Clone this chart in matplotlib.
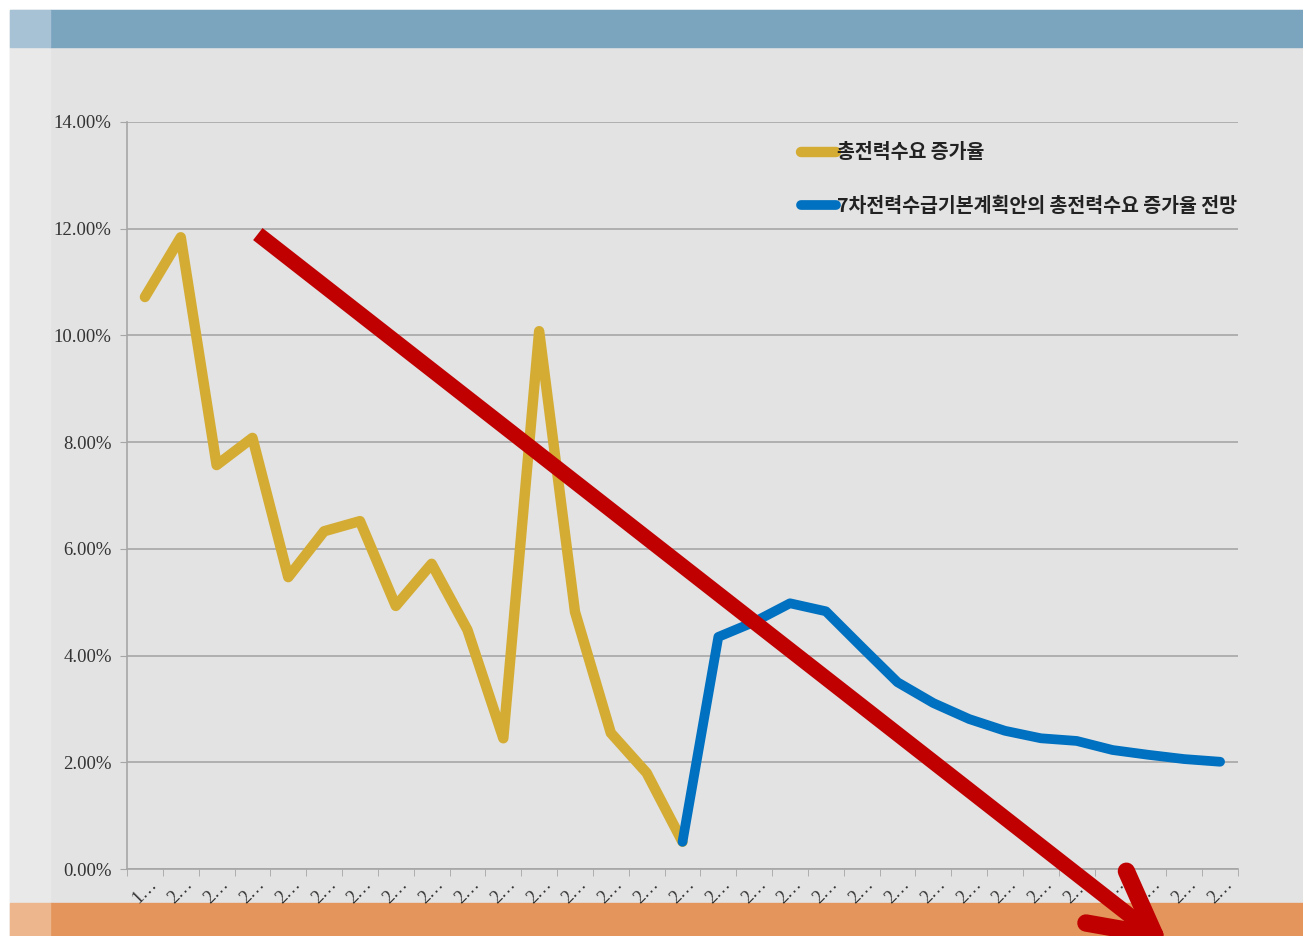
import numpy as np
import matplotlib.pyplot as plt
from matplotlib.lines import Line2D
from matplotlib.patches import Rectangle

plt.rcParams['font.family'] = ['Liberation Serif', 'DejaVu Serif']

# 데이터
years = ['1…'] + ['2…'] * 30
total_growth = [10.72, 11.84, 7.57, 8.08, 5.47, 6.33, 6.52, 4.93, 5.72, 4.48,
                2.45, 10.08, 4.82, 2.55, 1.80, 0.51]
plan_growth = [0.51, 4.35, 4.63, 4.98, 4.83, 4.16, 3.50, 3.11, 2.81, 2.59,
               2.45, 2.40, 2.23, 2.14, 2.06, 2.01]
plan_start = 15
yticks = [0, 2, 4, 6, 8, 10, 12, 14]

# 추세 화살표 (데이터 좌표)
trend_start = (3.15, 11.90)
trend_tip = (28.18, -1.24)

W, H = 1303, 936
fig = plt.figure(figsize=(W / 100, H / 100), dpi=100)
fig.patch.set_facecolor('white')

# 슬라이드 배경
def frect(x0, y0, x1, y1, color):
    fig.patches.append(Rectangle((x0 / W, 1 - y1 / H), (x1 - x0) / W, (y1 - y0) / H,
                                 transform=fig.transFigure, color=color, zorder=-10))

frect(10, 10, W, H, '#e3e3e3')
frect(10, 10, 50, H, '#e9e9e9')
frect(50, 10, W, 47, '#7ba4bf')
frect(10, 10, 50, 47, '#a6c2d4')
frect(50, 903, W, H, '#e4955b')
frect(10, 903, 50, H, '#edb68d')

ax = fig.add_axes([127 / W, 1 - 869 / H, 1111 / W, 747 / H])
ax.set_facecolor('none')

x_all = np.arange(len(years))
ax.plot(x_all[:len(total_growth)], total_growth, color='#d4ac34', lw=7.5,
        solid_capstyle='round', solid_joinstyle='round', label='총전력수요 증가율', zorder=3)
ax.plot(x_all[plan_start:plan_start + len(plan_growth)], plan_growth, color='#0070c0', lw=7.0,
        solid_capstyle='round', solid_joinstyle='round',
        label='7차전력수급기본계획안의 총전력수요 증가율 전망', zorder=3)

ax.set_xlim(-0.5, len(years) - 0.5)
ax.set_ylim(0, 14)
ax.set_yticks(yticks)
ax.set_yticklabels([f'{v:.2f}%' for v in yticks], fontsize=13.5, color='#333333')
ax.grid(axis='y', color='#a6a6a6', lw=1.2)
ax.set_axisbelow(True)
ax.tick_params(axis='y', length=5, color='#a6a6a6', pad=6)

ax.set_xticks(x_all)
ax.set_xticklabels(years, rotation=45, ha='center', va='top', fontsize=13, color='#333333')
ax.set_xticks(np.arange(-0.5, len(years)), minor=True)
ax.tick_params(axis='x', which='major', length=0, pad=5)
ax.tick_params(axis='x', which='minor', length=5, color='#a6a6a6')

for s in ['top', 'right']:
    ax.spines[s].set_visible(False)
for s in ['left', 'bottom']:
    ax.spines[s].set_color('#a6a6a6')
    ax.spines[s].set_linewidth(1.2)

leg = ax.legend(loc='upper left', bbox_to_anchor=(783 / W, 1 - 126 / H),
                bbox_transform=fig.transFigure, frameon=False, handlelength=1.85,
                handletextpad=0.05, labelspacing=1.78,
                prop={'family': ['Noto Sans CJK KR'], 'size': 14, 'weight': 'bold'})
for t in leg.get_texts():
    t.set_color('#222222')

# 빨간 추세 화살표
fig.canvas.draw()
p0 = ax.transData.transform(trend_start)
p1 = ax.transData.transform(trend_tip)
red = '#c00000'
fig.lines.append(Line2D([p0[0], p1[0]], [p0[1], p1[1]], transform=None, color=red,
                        lw=11, solid_capstyle='butt', zorder=10))
back = np.arctan2(p0[1] - p1[1], p0[0] - p1[0])
for da in (np.radians(28), -np.radians(28)):
    a = back + da
    end = p1 + 70 * np.array([np.cos(a), np.sin(a)])
    fig.lines.append(Line2D([p1[0], end[0]], [p1[1], end[1]], transform=None, color=red,
                            lw=12.5, solid_capstyle='round', zorder=10))

fig.savefig('out.png', dpi=100)
